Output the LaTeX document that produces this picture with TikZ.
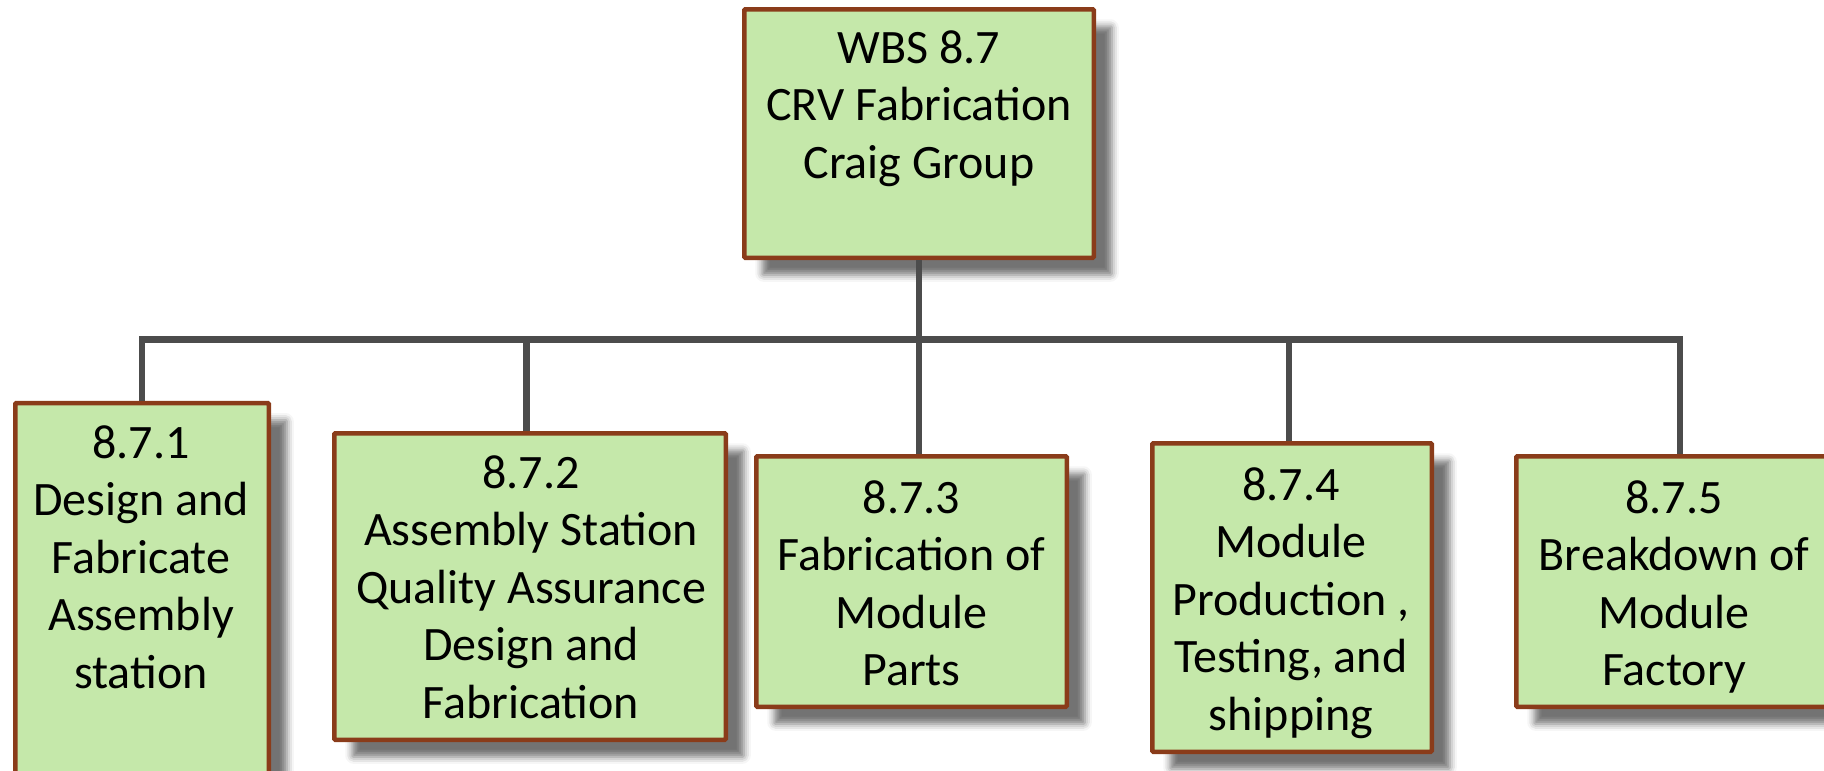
\documentclass[tikz,border=0pt]{standalone}
\usepackage{fontspec}
\setmainfont{Carlito}
\usetikzlibrary{shadows.blur}

\definecolor{boxfill}{RGB}{197,232,170}
\definecolor{boxedge}{RGB}{138,60,26}
\definecolor{wire}{RGB}{76,76,76}

\tikzset{
  wbsbox/.style={draw=boxedge, line width=4.5pt, fill=boxfill, rectangle,
    rounded corners=1pt, inner sep=0pt,
    blur shadow={shadow xshift=18pt, shadow yshift=-17pt,
      shadow blur radius=7pt, shadow opacity=55}},
  % anchored at the baseline of the last line
  wbstext/.style={align=center, anchor=base, inner sep=0pt,
    font=\fontsize{48pt}{57.5pt}\selectfont},
  conn/.style={draw=wire, line width=6.5pt, line cap=butt, line join=miter},
}

\begin{document}
\begin{tikzpicture}[x=1pt, y=-1pt]
  \useasboundingbox (0,0) rectangle (1824,771);

  % boxes
  \node[wbsbox, minimum width=349.5pt, minimum height=248.5pt] (top) at (919,133.5) {};
  \node[wbsbox, minimum width=253.5pt, minimum height=415pt]   (b1)  at (142,610.5) {};
  \node[wbsbox, minimum width=391.5pt, minimum height=306.5pt] (b2)  at (530,586.5) {};
  \node[wbsbox, minimum width=310.5pt, minimum height=250.5pt] (b3)  at (911.5,581.5) {};
  \node[wbsbox, minimum width=279.5pt, minimum height=308.5pt] (b4)  at (1292,597.5) {};
  \node[wbsbox, minimum width=327.5pt, minimum height=250.5pt] (b5)  at (1680,581.5) {};

  % labels
  \node[wbstext] (ttop) at (919,178)  {WBS 8.7\\CRV Fabrication\\Craig Group};
  \node[wbstext] (t1) at (141,688)    {8.7.1\\Design and\\Fabricate\\Assembly\\station};
  \node[wbstext] (t2) at (531,718)    {8.7.2\\Assembly Station\\Quality Assurance\\Design and\\Fabrication};
  \node[wbstext] (t3) at (911.5,685.5) {8.7.3\\Fabrication of\\Module\\Parts};
  \node[wbstext] (t4) at (1291,730)   {8.7.4\\Module\\Production ,\\Testing, and\\shipping};
  \node[wbstext] (t5) at (1674,685.5) {8.7.5\\Breakdown of\\Module\\Factory};

  % tree connectors
  \coordinate (bus) at (919,339.5);
  \draw[conn] (top.south) -- (bus);
  \draw[conn] (bus) -| (b1.north);
  \draw[conn] (bus) -| ([xshift=-3.5pt]b2.north);
  \draw[conn] (bus) -- (bus |- b3.north);
  \draw[conn] (bus) -| ([xshift=-3pt]b4.north);
  \draw[conn] (bus) -| (b5.north);
\end{tikzpicture}
\end{document}
